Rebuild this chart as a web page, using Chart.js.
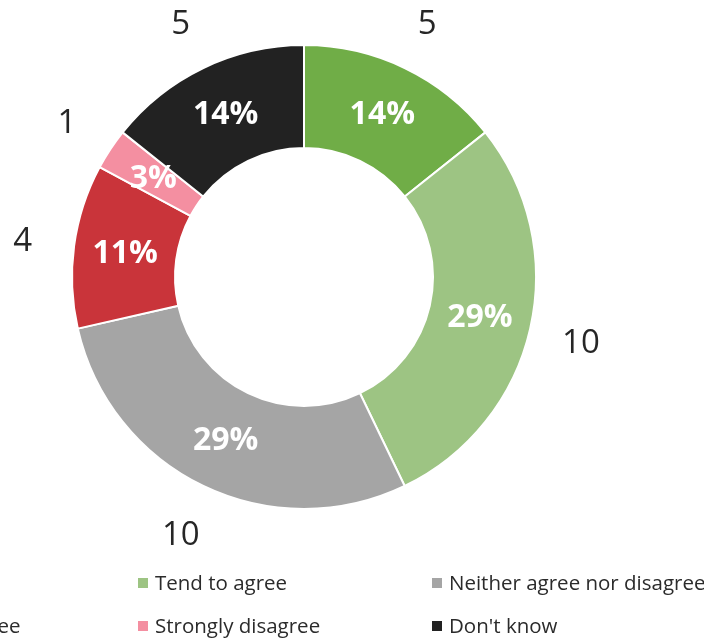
<!DOCTYPE html>
<html><head><meta charset="utf-8">
<script src="https://cdn.jsdelivr.net/npm/chart.js@4/dist/chart.umd.min.js"></script>
<style>html,body{margin:0;padding:0;background:#fff;overflow:hidden}#wrap{position:relative;width:704px;height:638px}</style>
</head><body><div id="wrap"><canvas id="c" width="704" height="638"></canvas></div>
<script>
const categories = ['Strongly agree', 'Tend to agree', 'Neither agree nor disagree', 'Tend to disagree', 'Strongly disagree', "Don't know"];
const counts = [5, 10, 10, 4, 1, 5];
const colors = ['#70AD47', '#9DC483', '#A5A5A5', '#C9343A', '#F48FA1', '#222222'];

const FONT = '"Open Sans", "Noto Sans", sans-serif';

const labelPlugin = {
  id: 'sliceLabels',
  afterDatasetsDraw(chart) {
    const ctx = chart.ctx;
    const meta = chart.getDatasetMeta(0);
    const total = counts.reduce((a, b) => a + b, 0);
    ctx.save();
    ctx.textAlign = 'center';
    ctx.textBaseline = 'middle';
    meta.data.forEach((arc, i) => {
      const p = arc.getProps(['x', 'y', 'startAngle', 'endAngle', 'innerRadius', 'outerRadius'], true);
      const mid = (p.startAngle + p.endAngle) / 2;
      const rm = (p.innerRadius + p.outerRadius) / 2;
      ctx.font = 'bold 32px ' + FONT;
      ctx.fillStyle = '#ffffff';
      ctx.fillText(Math.round(counts[i] / total * 100) + '%', p.x + Math.cos(mid) * rm, p.y + Math.sin(mid) * rm + 1);
      const ro = p.outerRadius + 52;
      ctx.font = '33px ' + FONT;
      ctx.fillStyle = '#262626';
      ctx.fillText(String(counts[i]), p.x + Math.cos(mid) * ro, p.y + Math.sin(mid) * ro + 3);
    });
    ctx.restore();
  }
};

const legendPlugin = {
  id: 'customLegend',
  afterDraw(chart) {
    const ctx = chart.ctx;
    const colX = [-156, 138, 432];
    const rowY = [583, 626];
    ctx.save();
    ctx.font = '20.5px ' + FONT;
    ctx.textBaseline = 'middle';
    ctx.textAlign = 'left';
    categories.forEach((name, i) => {
      const x = colX[i % 3];
      const y = rowY[Math.floor(i / 3)];
      ctx.fillStyle = colors[i];
      ctx.fillRect(x, y - 5, 10, 10);
      ctx.fillStyle = '#2b2b2b';
      ctx.fillText(name, x + 17, y + 1);
    });
    ctx.restore();
  }
};

function draw() {
  new Chart(document.getElementById('c'), {
    type: 'doughnut',
    data: {
      labels: categories,
      datasets: [{
        data: counts,
        backgroundColor: colors,
        borderColor: '#ffffff',
        borderWidth: 2
      }]
    },
    options: {
      responsive: false,
      animation: false,
      cutout: '55.6%',
      layout: { padding: { left: 71, right: 167, top: 44, bottom: 128 } },
      plugins: { legend: { display: false }, tooltip: { enabled: false } }
    },
    plugins: [labelPlugin, legendPlugin]
  });
}
Promise.all([
  document.fonts.load('bold 32px "Open Sans"'),
  document.fonts.load('33px "Open Sans"'),
  document.fonts.load('20px "Open Sans"')
]).then(draw, draw);
</script>
</body></html>
